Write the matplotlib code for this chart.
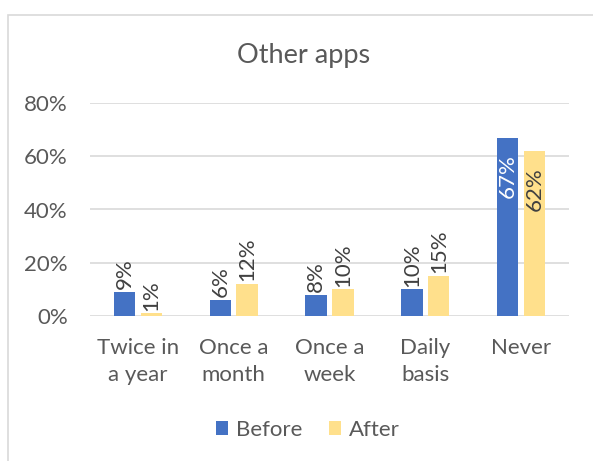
import matplotlib.pyplot as plt
import matplotlib.patches as mpatches
import numpy as np

categories = ['Twice in\na year', 'Once a\nmonth', 'Once a\nweek', 'Daily\nbasis', 'Never']
before = [9, 6, 8, 10, 67]
after = [1, 12, 10, 15, 62]
yticks = [0, 20, 40, 60, 80]

BLUE = '#4472C4'
YELLOW = '#FFE08C'
GRAY = '#595959'
FS = 16

plt.rcParams['font.family'] = ['Lato', 'DejaVu Sans']

fig = plt.figure(figsize=(5.93, 4.61), dpi=100)
ax = fig.add_axes([90 / 593, 1 - 316 / 461, 479 / 593, 213 / 461])

# chart border (Excel style, runs off the right and bottom)
fig.patches.append(mpatches.Rectangle((8 / 593, -0.1), 1.2, 1 - 15 / 461 + 0.1,
                                      transform=fig.transFigure, fill=False,
                                      edgecolor='#D9D9D9', linewidth=1.2))

x = np.arange(len(categories))
w = 0.225
off = 0.14
b1 = ax.bar(x - off, before, w, color=BLUE, label='Before', zorder=3)
b2 = ax.bar(x + off, after, w, color=YELLOW, label='After', zorder=3)

for bars, vals in ((b1, before), (b2, after)):
    for rect, v in zip(bars, vals):
        cx = rect.get_x() + rect.get_width() / 2
        if v > 50:
            color = 'white' if bars is b1 else '#404040'
            ax.annotate(f'{v}%', (cx, v), xytext=(0, -12), textcoords='offset points',
                        rotation=90, ha='center', va='top', fontsize=FS, color=color)
        else:
            ax.annotate(f'{v}%', (cx, v), xytext=(0, 2), textcoords='offset points',
                        rotation=90, ha='center', va='bottom', fontsize=FS, color='#404040')

ax.set_ylim(0, 80)
ax.set_xlim(-0.5, len(categories) - 0.5)
ax.set_yticks(yticks)
ax.set_yticklabels([f'{t}%' for t in yticks])
ax.set_xticks(x)
ax.set_xticklabels(categories, linespacing=1.45)
ax.tick_params(axis='both', length=0, labelsize=FS, colors=GRAY)
ax.tick_params(axis='x', pad=16)
ax.tick_params(axis='y', pad=16)
ax.grid(axis='y', color='#D9D9D9', linewidth=1.2, zorder=0)
for s in ax.spines.values():
    s.set_visible(False)

fig.text(304 / 593, 1 - 55 / 461, 'Other apps', ha='center', va='center',
         fontsize=19.5, color=GRAY)

fig.legend(handles=[b1, b2], loc='center', bbox_to_anchor=(308 / 593, 1 - 430 / 461),
           ncol=2, frameon=False, fontsize=FS, labelcolor=GRAY,
           handlelength=0.55, handleheight=0.55, handletextpad=0.35, columnspacing=1.2)

fig.savefig('out.png', dpi=100)
